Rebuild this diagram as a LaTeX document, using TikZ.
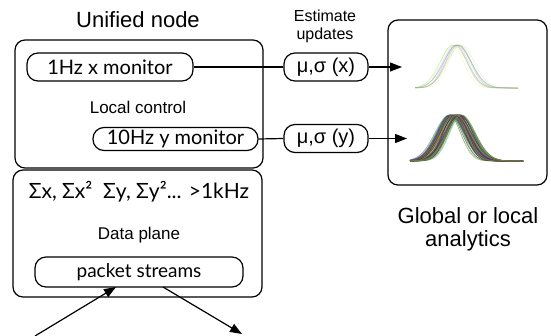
\documentclass[tikz,border=0pt]{standalone}
\usepackage{fontspec}
\setmainfont{Liberation Sans}
\newfontfamily\pillfont{Lato}
\usetikzlibrary{arrows.meta}

\tikzset{
  frame/.style={draw, rounded corners=10pt, inner sep=0pt},
  pill/.style={draw, rounded corners=11pt, inner sep=0pt, font=\pillfont\fontsize{20}{22}\selectfont},
  est/.style={draw, rounded corners=11pt, inner sep=0pt, font=\fontsize{20}{22}\selectfont},
  label/.style={inner sep=0pt, align=center},
  arr/.style={-{Triangle[length=12pt,width=9pt]}},
  curve/.style={line width=0.5pt, smooth}
}

\begin{document}
\begin{tikzpicture}[x=1pt, y=-1pt, line width=1.2pt]
\useasboundingbox (0,0) rectangle (551,335);

% node frames
\node[frame, minimum width=248, minimum height=128] (ctl) at (139,104) {};
\node[frame, minimum width=249, minimum height=127] (dp) at (137.5,233.5) {};
\node[frame, minimum width=159, minimum height=165] (ana) at (467.5,102.5) {};

% headings and captions
\node[label, font=\fontsize{22}{22}\selectfont] (title) at (138,20) {Unified node};
\node[label, font=\fontsize{17}{17}\selectfont] (lc) at (138,107) {Local control};
\node[label, font=\fontsize{16}{18}\selectfont] (eu) at (325,26) {Estimate\\updates};
\node[label, font=\fontsize{17}{17}\selectfont] (dpl) at (139,235) {Data plane};
\node[label, font=\fontsize{22}{23}\selectfont] (ga) at (468,229) {Global or local\\analytics};
\node[label, font=\pillfont\fontsize{21}{21}\selectfont] (sums) at (139,192) {Σx, Σx² \ Σy, Σy²... >1kHz};

% monitors and estimates
\node[pill, minimum width=166, minimum height=28] (m1) at (110,67) {1Hz x monitor};
\node[pill, minimum width=165, minimum height=23] (m2) at (175.5,139) {10Hz y monitor};
\node[est, minimum width=84, minimum height=28] (ex) at (326,67) {μ,σ (x)};
\node[est, minimum width=84, minimum height=28] (ey) at (326,138.5) {μ,σ (y)};
\node[pill, minimum width=208, minimum height=30, font=\pillfont\fontsize{19}{21}\selectfont] (ps) at (139,272) {packet streams};

% connectors
\coordinate (tx) at (402,67);
\coordinate (ty) at (407,138.5);
\draw (m1.east) -- (ex.west);
\draw[arr] (ex.east) -- (tx);
\draw (m2.east) -- (ey.west);
\draw[arr] (ey.east) -- (ty);

\coordinate (pin) at (35,336);
\coordinate (pinTip) at (116,287);
\coordinate (pout) at (163,287);
\coordinate (poutTip) at (242,334);
\draw[arr] (pin) -- (pinTip);
\draw[arr] (pout) -- (poutTip);

% distribution estimates, x
\pgfmathsetseed{7}
\foreach \i in {1,...,12}{
  \pgfmathsetmacro{\mu}{451+rnd*10}
  \pgfmathsetmacro{\sg}{11+rnd*3}
  \pgfmathsetmacro{\hu}{rnd}
  \definecolor{cc}{hsb}{\hu,0.75,0.9}
  \draw[curve, cc, opacity=0.3] plot[domain=415:518, samples=60]
    (\x, {88-43*exp(-0.5*((\x-\mu)/\sg)^2)});
}
% distribution estimates, y
\foreach \i in {1,...,90}{
  \pgfmathsetmacro{\mu}{449+rnd*13}
  \pgfmathsetmacro{\sg}{11+rnd*4}
  \pgfmathsetmacro{\hu}{rnd}
  \pgfmathsetmacro{\br}{0.2+rnd*0.7}
  \definecolor{cc}{hsb}{\hu,0.8,\br}
  \draw[curve, cc, opacity=0.45] plot[domain=410:523, samples=60]
    (\x, {161-46*exp(-0.5*((\x-\mu)/\sg)^2)});
}
\end{tikzpicture}
\end{document}
